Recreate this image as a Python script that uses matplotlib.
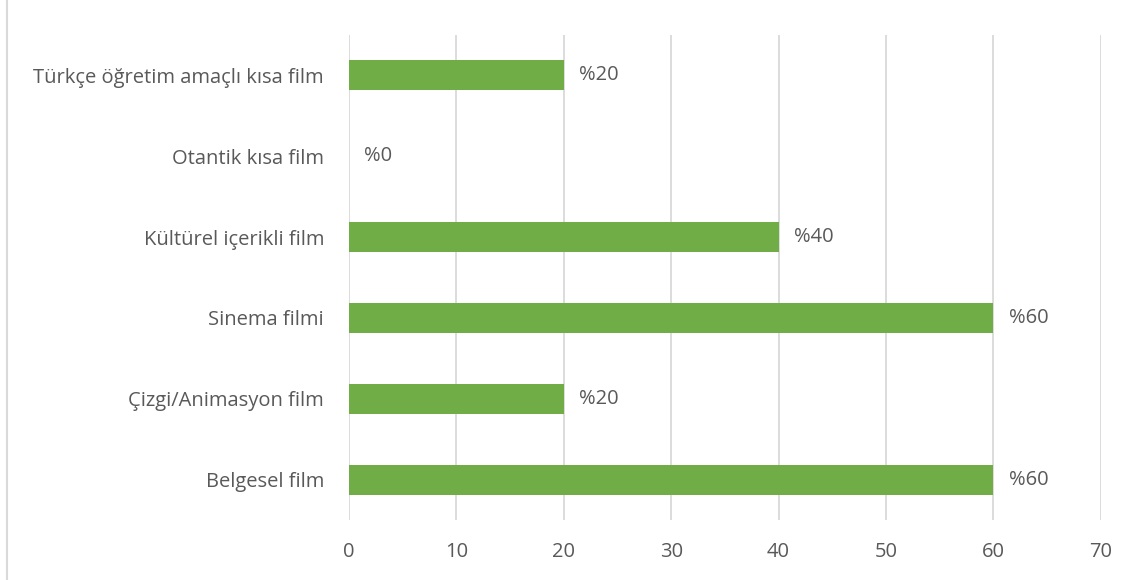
import matplotlib.pyplot as plt
from matplotlib.lines import Line2D

categories = ['Belgesel film', 'Çizgi/Animasyon film', 'Sinema filmi',
              'Kültürel içerikli film', 'Otantik kısa film',
              'Türkçe öğretim amaçlı kısa film']
values = [60, 20, 60, 40, 0, 20]
xticks = [0, 10, 20, 30, 40, 50, 60, 70]

plt.rcParams['font.family'] = ['Open Sans', 'DejaVu Sans']
txt = '#595959'

fig = plt.figure(figsize=(11.37, 5.80), dpi=100)
ax = fig.add_axes([0.307, 0.103, 0.661, 0.837])

ax.barh(range(len(categories)), values, height=0.37, color='#70AD47', zorder=3)
for i, v in enumerate(values):
    ax.annotate('%' + str(v), (v, i), xytext=(11, 0), textcoords='offset points',
                va='center', ha='left', fontsize=14.5, color=txt)

ax.set_xlim(0, 70)
ax.set_ylim(-0.5, len(categories) - 0.5)
ax.set_xticks(xticks)
ax.set_yticks(range(len(categories)))
ax.set_yticklabels(categories)
ax.grid(axis='x', color='#D9D9D9', lw=1.3, zorder=0)
for s in ax.spines.values():
    s.set_visible(False)
ax.tick_params(axis='both', length=0, labelsize=14.5, labelcolor=txt)
ax.tick_params(axis='x', pad=16)
ax.tick_params(axis='y', pad=18)

# outer chart border on the left edge
fig.add_artist(Line2D([0.0065, 0.0065], [0, 1], color='#D9D9D9', lw=1.5,
                      transform=fig.transFigure))

fig.savefig('out.png', dpi=100)
